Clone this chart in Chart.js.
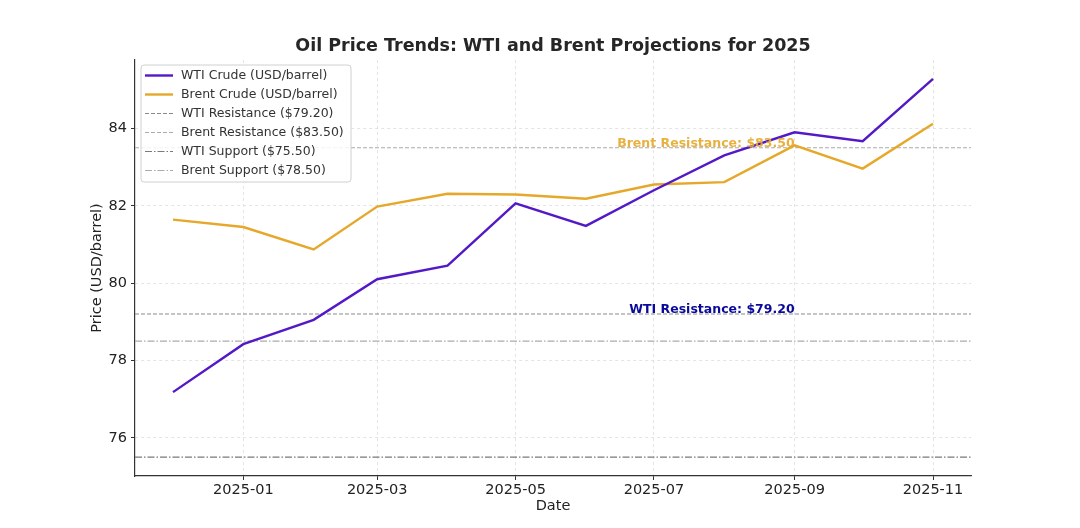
<!DOCTYPE html>
<html>
<head>
<meta charset="utf-8">
<script src="https://cdn.jsdelivr.net/npm/chart.js@4"></script>
<style>
  html, body { margin: 0; padding: 0; background: #ffffff; }
  #wrap { width: 1080px; height: 528px; position: relative; }
</style>
</head>
<body>
<div id="wrap"><canvas id="c" width="1080" height="528"></canvas></div>
<script>
// ---- Data ----
const dates = ['2024-12-01','2025-01-01','2025-02-01','2025-03-01','2025-04-01','2025-05-01',
               '2025-06-01','2025-07-01','2025-08-01','2025-09-01','2025-10-01','2025-11-01'];
const wtiPrices   = [77.18, 78.42, 79.05, 80.10, 80.45, 82.06, 81.48, 82.40, 83.30, 83.90, 83.67, 85.28];
const brentPrices = [81.64, 81.45, 80.87, 81.98, 82.31, 82.29, 82.18, 82.55, 82.61, 83.56, 82.96, 84.12];
const xTickLabels = ['2025-01','2025-03','2025-05','2025-07','2025-09','2025-11'];
const yTickValues = [76, 78, 80, 82, 84];
const levelNames  = ['WTI Resistance', 'Brent Resistance', 'WTI Support', 'Brent Support'];
const levelValues = [79.20, 83.50, 75.50, 78.50];
const annotationDate = '2025-09-01';

// ---- helpers ----
const EPOCH = Date.UTC(2024, 11, 1);
function dayOf(s) {
  const p = s.split('-').map(Number);
  return (Date.UTC(p[0], p[1] - 1, p[2] || 1) - EPOCH) / 86400000;
}
const xs = dates.map(dayOf);
const xSpan = xs[xs.length - 1] - xs[0];
const X_MIN = xs[0] - 0.05 * xSpan;
const X_MAX = xs[xs.length - 1] + 0.05 * xSpan;
const allY = wtiPrices.concat(brentPrices, levelValues);
const yLo = Math.min(...allY), yHi = Math.max(...allY);
const Y_MIN = yLo - 0.05 * (yHi - yLo);
const Y_MAX = yHi + 0.05 * (yHi - yLo);

const WTI_COLOR = '#5419c6';
const BRENT_COLOR = '#e6a82a';
const levelStyles = [
  { color: '#8a8a8a', dash: [4, 2] },
  { color: '#ababab', dash: [4, 2] },
  { color: '#7a7a7a', dash: [7, 2, 1.5, 2] },
  { color: '#ababab', dash: [7, 2, 1.5, 2] }
];

const datasets = [
  { label: 'WTI Crude (USD/barrel)', data: xs.map((x, i) => ({ x, y: wtiPrices[i] })),
    borderColor: WTI_COLOR, borderWidth: 2.4, pointRadius: 0, tension: 0, fill: false },
  { label: 'Brent Crude (USD/barrel)', data: xs.map((x, i) => ({ x, y: brentPrices[i] })),
    borderColor: BRENT_COLOR, borderWidth: 2.4, pointRadius: 0, tension: 0, fill: false }
];
levelValues.forEach((v, i) => {
  datasets.push({
    label: levelNames[i] + ' ($' + v.toFixed(2) + ')',
    data: [{ x: X_MIN, y: v }, { x: X_MAX, y: v }],
    borderColor: levelStyles[i].color, borderDash: levelStyles[i].dash,
    borderWidth: 1.1, pointRadius: 0, fill: false
  });
});

const FONT = "'DejaVu Sans', sans-serif";

const customPlugin = {
  id: 'custom',
  afterDraw(chart) {
    const ctx = chart.ctx;
    const area = chart.chartArea;
    const xS = chart.scales.x, yS = chart.scales.y;
    ctx.save();
    // Title
    ctx.fillStyle = '#262626';
    ctx.font = 'bold 17.5px ' + FONT;
    ctx.textAlign = 'center';
    ctx.textBaseline = 'middle';
    ctx.fillText('Oil Price Trends: WTI and Brent Projections for 2025', (area.left + area.right) / 2, 46.5);

    // Annotations
    const ax = xS.getPixelForValue(dayOf(annotationDate));
    ctx.font = 'bold 12.5px ' + FONT;
    ctx.textAlign = 'right';
    ctx.textBaseline = 'bottom';
    ctx.fillStyle = 'rgba(230,168,42,0.9)';
    ctx.fillText('Brent Resistance: $' + levelValues[1].toFixed(2), ax, yS.getPixelForValue(levelValues[1]) + 2);
    ctx.fillStyle = '#0a0a9a';
    ctx.fillText('WTI Resistance: $' + levelValues[0].toFixed(2), ax, yS.getPixelForValue(levelValues[0]) + 2);

    // Legend
    const lx = 141, ly = 65, lw = 210, lh = 117, r = 3;
    ctx.fillStyle = 'rgba(255,255,255,0.85)';
    ctx.strokeStyle = '#d0d0d0';
    ctx.lineWidth = 1;
    ctx.beginPath();
    ctx.moveTo(lx + r, ly);
    ctx.lineTo(lx + lw - r, ly); ctx.arcTo(lx + lw, ly, lx + lw, ly + r, r);
    ctx.lineTo(lx + lw, ly + lh - r); ctx.arcTo(lx + lw, ly + lh, lx + lw - r, ly + lh, r);
    ctx.lineTo(lx + r, ly + lh); ctx.arcTo(lx, ly + lh, lx, ly + lh - r, r);
    ctx.lineTo(lx, ly + r); ctx.arcTo(lx, ly, lx + r, ly, r);
    ctx.closePath();
    ctx.fill(); ctx.stroke();
    ctx.font = '12.5px ' + FONT;
    ctx.textAlign = 'left';
    ctx.textBaseline = 'middle';
    chart.data.datasets.forEach((ds, i) => {
      const y = ly + 10.5 + i * 19;
      ctx.save();
      ctx.strokeStyle = ds.borderColor;
      ctx.lineWidth = ds.borderWidth;
      ctx.setLineDash(ds.borderDash || []);
      ctx.beginPath();
      ctx.moveTo(lx + 4, y); ctx.lineTo(lx + 32, y);
      ctx.stroke();
      ctx.restore();
      ctx.fillStyle = '#333333';
      ctx.fillText(ds.label, lx + 40, y);
    });
    ctx.restore();
  }
};

new Chart(document.getElementById('c'), {
  type: 'line',
  data: { datasets },
  options: {
    responsive: false,
    animation: false,
    layout: { padding: { top: 60, right: 109, left: 0, bottom: 0 } },
    plugins: { legend: { display: false }, title: { display: false }, tooltip: { enabled: false } },
    scales: {
      x: {
        type: 'linear', min: X_MIN, max: X_MAX,
        afterBuildTicks(scale) { scale.ticks = xTickLabels.map(l => ({ value: dayOf(l + '-01') })); },
        afterFit(scale) { scale.height = 52; },
        ticks: {
          font: { family: FONT, size: 14.5 }, color: '#222', padding: 2, maxRotation: 0, autoSkip: false,
          callback(v) { const i = xTickLabels.findIndex(l => dayOf(l + '-01') === v); return i >= 0 ? xTickLabels[i] : ''; }
        },
        grid: { color: '#dedede', lineWidth: 0.8, tickLength: 4, tickColor: '#333', tickWidth: 1, tickBorderDash: [] },
        border: { display: true, color: '#333', width: 1.2, dash: [3, 3] },
        title: { display: true, text: 'Date', font: { family: FONT, size: 14.5 }, color: '#222', padding: { top: 0, bottom: 13 } }
      },
      y: {
        type: 'linear', min: Y_MIN, max: Y_MAX,
        afterBuildTicks(scale) { scale.ticks = yTickValues.map(v => ({ value: v })); },
        afterFit(scale) { scale.width = 135; },
        ticks: { font: { family: FONT, size: 14.5 }, color: '#222', padding: 4, callback: v => String(v) },
        grid: { color: '#dedede', lineWidth: 0.8, tickLength: 4, tickColor: '#333', tickWidth: 1, tickBorderDash: [] },
        border: { display: true, color: '#333', width: 1.2, dash: [3, 3] },
        title: { display: true, text: 'Price (USD/barrel)', font: { family: FONT, size: 14.5 }, color: '#222', padding: { top: 89, bottom: 0 } }
      }
    }
  },
  plugins: [customPlugin]
});
</script>
</body>
</html>
